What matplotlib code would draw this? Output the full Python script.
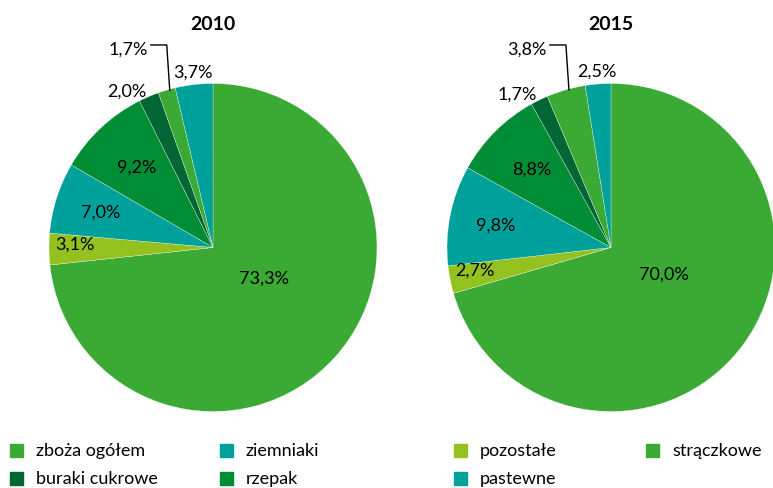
import matplotlib.pyplot as plt
import numpy as np
from matplotlib.patches import Rectangle

plt.rcParams['font.family'] = ['Lato', 'DejaVu Sans']

# Data
categories = ['zboża ogółem', 'pozostałe', 'ziemniaki', 'rzepak',
              'buraki cukrowe', 'strączkowe', 'pastewne']
values_2010 = [73.3, 3.1, 7.0, 9.2, 2.0, 1.7, 3.7]
values_2015 = [70.0, 2.7, 9.8, 8.8, 1.7, 3.8, 2.5]
years = ['2010', '2015']

colors = ['#3aaa35', '#95c11f', '#00a19a', '#008d36', '#006633', '#3aaa35', '#00a19a']

# legend layout: (category index, column, row)
legend_items = [(0, 0, 0), (2, 1, 0), (1, 2, 0), (5, 3, 0),
                (4, 0, 1), (3, 1, 1), (6, 2, 1)]
legend_cols = [10, 220, 454, 646]

W, H = 773, 489
fig = plt.figure(figsize=(W / 100, H / 100), dpi=100)
ax = fig.add_axes([0, 0, 1, 1])

R = 164
centers = [(213, H - 248.5), (611, H - 248.5)]

# label placement per slice: radial distance (in radii), angle shift, alignment
label_dist = [0.36, 0.84, 0.72, 0.68, 1.04, None, 1.08]
label_shift = [11, -2, 0, 0, 0, 0, 0]
label_ha = ['center', 'center', 'center', 'center', 'right', 'right', 'center']

def fmt(v):
    return f"{v:.1f}%".replace('.', ',')

for (cx, cy), vals, year in zip(centers, [values_2010, values_2015], years):
    wedges, _ = ax.pie(vals, colors=colors, startangle=90, counterclock=False,
                       center=(cx, cy), radius=R, frame=True,
                       wedgeprops=dict(edgecolor='white', linewidth=0.2))
    for i, w in enumerate(wedges):
        mid = np.deg2rad((w.theta1 + w.theta2) / 2 + label_shift[i])
        if label_dist[i] is None:
            # leader line label
            ex = cx + R * np.cos(mid) + 3
            ey = cy + R * np.sin(mid)
            ty = cy + 1.235 * R
            ax.plot([ex, ex - 3, ex - 19], [ey, ty, ty], color='black', lw=1)
            ax.text(ex - 22, ty - 4, fmt(vals[i]), ha='right', va='center',
                    fontsize=13)
        else:
            d = label_dist[i] * R
            ax.text(cx + d * np.cos(mid), cy + d * np.sin(mid), fmt(vals[i]),
                    ha=label_ha[i], va='center', fontsize=13)
    ax.text(cx, H - 25, year, ha='center', va='center', fontsize=14,
            fontweight='bold')

ax.set_xlim(0, W)
ax.set_ylim(0, H)
ax.set_aspect('equal')
ax.axis('off')

# Legend
rows_y = [H - 451, H - 479]
for idx, col, row in legend_items:
    x = legend_cols[col]
    y = rows_y[row]
    ax.add_patch(Rectangle((x, y - 6.5), 13, 13, color=colors[idx], clip_on=False))
    ax.text(x + 26, y, categories[idx], ha='left', va='center', fontsize=13)

fig.savefig('out.png', dpi=100)
